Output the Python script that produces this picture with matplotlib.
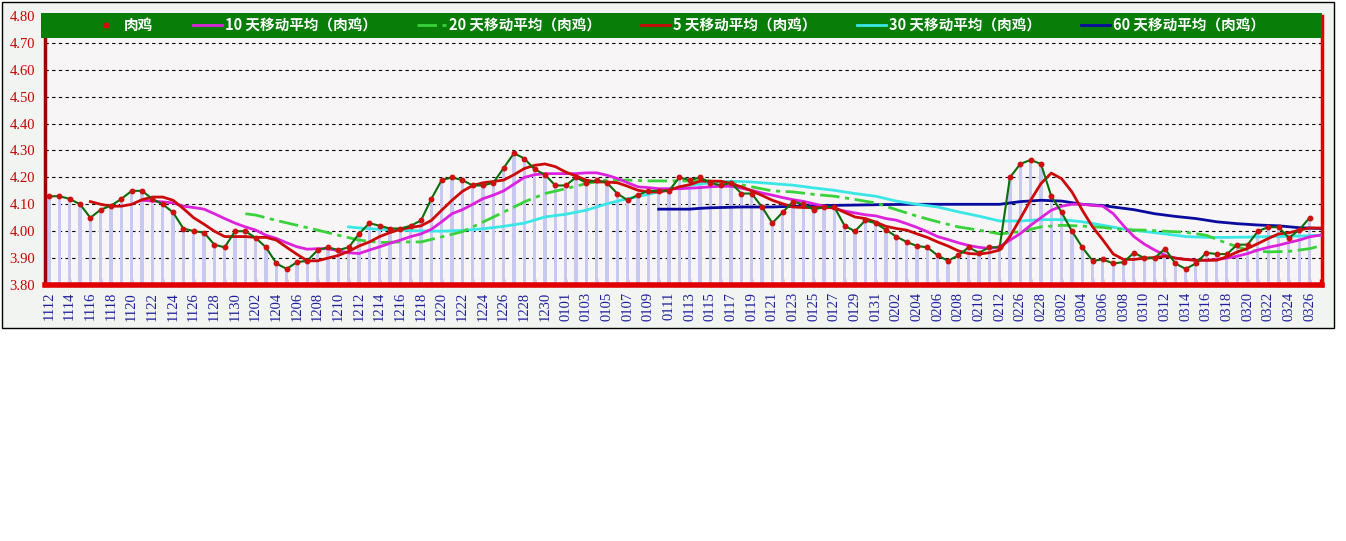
import matplotlib
matplotlib.use('Agg')
import matplotlib.pyplot as plt
from matplotlib.lines import Line2D
from matplotlib.patches import Rectangle
import numpy as np

plt.rcParams['font.family'] = ['Noto Sans CJK SC', 'DejaVu Sans']

# categories (trading days), one tick label every second day
dates = ([f'11{d:02d}' for d in range(12, 31)] + [f'12{d:02d}' for d in range(1, 32)]
         + [f'01{d:02d}' for d in range(1, 32)] + [f'02{d:02d}' for d in range(1, 13)]
         + ['0225', '0226', '0227', '0228'] + [f'03{d:02d}' for d in range(1, 28)])

# 肉鸡 price, 1112 .. 0326
price = [4.13, 4.13, 4.12, 4.10, 4.05, 4.08, 4.095, 4.12, 4.15, 4.15,
         4.12, 4.10, 4.07, 4.01, 4.00, 3.995, 3.95, 3.94, 4.00, 4.00,
         3.975, 3.94, 3.88, 3.86, 3.885, 3.89, 3.93, 3.94, 3.93, 3.94,
         3.99, 4.03, 4.02, 4.01, 4.01, 4.02, 4.04, 4.12, 4.19, 4.20,
         4.19, 4.17, 4.17, 4.18, 4.235, 4.29, 4.27, 4.23, 4.21, 4.17,
         4.17, 4.20, 4.18, 4.19, 4.18, 4.14, 4.115, 4.135, 4.15, 4.15,
         4.15, 4.20, 4.19, 4.20, 4.18, 4.17, 4.18, 4.14, 4.14, 4.09,
         4.03, 4.07, 4.11, 4.10, 4.08, 4.09, 4.09, 4.02, 4.00, 4.04,
         4.03, 4.005, 3.98, 3.96, 3.945, 3.94, 3.91, 3.89, 3.91, 3.94,
         3.92, 3.94, 3.94, 4.20, 4.25, 4.265, 4.25, 4.13, 4.07, 4.00,
         3.94, 3.89, 3.895, 3.88, 3.885, 3.92, 3.90, 3.90, 3.935, 3.88,
         3.86, 3.88, 3.92, 3.915, 3.915, 3.95, 3.95, 4.00, 4.015, 4.015,
         3.975, 4.005, 4.05]

# 5-day MA, from 1116 to 0327
ma5_start = 4
ma5 = [4.11, 4.10, 4.093, 4.093, 4.10, 4.117, 4.127, 4.127, 4.115, 4.084,
       4.05, 4.026, 4.00, 3.98, 3.98, 3.98, 3.977, 3.977, 3.967, 3.94,
       3.914, 3.89, 3.89, 3.90, 3.91, 3.925, 3.945, 3.96, 3.98, 3.995,
       4.007, 4.014, 4.02, 4.04, 4.078, 4.115, 4.148, 4.17, 4.18, 4.185,
       4.19, 4.21, 4.233, 4.245, 4.25, 4.24, 4.22, 4.205, 4.19, 4.183,
       4.183, 4.18, 4.167, 4.152, 4.146, 4.146, 4.152, 4.165, 4.173, 4.186,
       4.186, 4.186, 4.177, 4.165, 4.15, 4.133, 4.115, 4.102, 4.09, 4.088,
       4.088, 4.088, 4.088, 4.07, 4.053, 4.047, 4.034, 4.018, 4.01, 4.004,
       3.99, 3.977, 3.96, 3.945, 3.927, 3.917, 3.915, 3.92, 3.93, 3.98,
       4.047, 4.115, 4.177, 4.216, 4.195, 4.146, 4.078, 4.016, 3.967, 3.915,
       3.895, 3.895, 3.90, 3.902, 3.907, 3.90, 3.895, 3.892, 3.892, 3.892,
       3.905, 3.923, 3.936, 3.954, 3.973, 3.99, 3.994, 4.004, 4.012, 4.012]

# 10-day MA, from 1121 to 0327
ma10_start = 9
ma10 = [4.115, 4.112, 4.109, 4.105, 4.093, 4.088, 4.082, 4.065, 4.047, 4.03,
        4.016, 4.004, 3.985, 3.973, 3.957, 3.942, 3.933, 3.935, 3.935, 3.927,
        3.92, 3.917, 3.93, 3.942, 3.955, 3.967, 3.98, 3.99, 4.007, 4.035,
        4.065, 4.08, 4.10, 4.121, 4.134, 4.15, 4.175, 4.20, 4.21, 4.214,
        4.214, 4.214, 4.214, 4.217, 4.217, 4.208, 4.196, 4.18, 4.165, 4.162,
        4.158, 4.158, 4.158, 4.16, 4.162, 4.165, 4.167, 4.167, 4.16, 4.152,
        4.142, 4.134, 4.125, 4.117, 4.111, 4.102, 4.093, 4.084, 4.075, 4.068,
        4.061, 4.057, 4.047, 4.041, 4.028, 4.014, 3.998, 3.98, 3.969, 3.957,
        3.947, 3.94, 3.936, 3.942, 3.967, 3.991, 4.022, 4.05, 4.078, 4.093,
        4.10, 4.10, 4.096, 4.093, 4.065, 4.02, 3.98, 3.952, 3.93, 3.911,
        3.90, 3.895, 3.892, 3.892, 3.895, 3.90, 3.907, 3.917, 3.93, 3.94,
        3.948, 3.958, 3.967, 3.979, 3.985]

# 20/30/60-day MA, read at the listed category numbers
ma20_at = [19, 20, 22, 24, 26, 28, 30, 32, 34, 36, 38, 40, 42, 44, 46, 48, 50, 52, 54, 56,
           58, 60, 62, 64, 66, 68, 70, 72, 74, 76, 78, 80, 82, 84, 86, 88, 90, 92, 94, 96,
           98, 100, 102, 104, 106, 108, 110, 112, 114, 116, 118, 120, 122, 123]
ma20 = [4.065, 4.06, 4.04, 4.022, 4.004, 3.985, 3.967, 3.958, 3.96, 3.96,
        3.979, 3.998, 4.034, 4.071, 4.109, 4.14, 4.158, 4.177, 4.19, 4.19,
        4.187, 4.187, 4.187, 4.187, 4.18, 4.165, 4.15, 4.146, 4.137, 4.13,
        4.118, 4.105, 4.08, 4.056, 4.035, 4.016, 4.004, 3.99, 3.998, 4.016,
        4.022, 4.019, 4.014, 4.005, 4.004, 4.00, 3.996, 3.985, 3.955, 3.93,
        3.923, 3.925, 3.935, 3.945]

ma30_at = [29, 30, 32, 34, 36, 38, 40, 42, 44, 46, 48, 50, 52, 54, 56, 58, 60, 62, 64, 66,
           68, 70, 72, 74, 76, 78, 80, 82, 84, 86, 88, 90, 92, 94, 96, 98, 100, 102, 104, 106,
           108, 110, 112, 114, 116, 118, 120, 122, 123]
ma30 = [4.016, 4.012, 4.007, 4.004, 4.001, 4.00, 4.003, 4.009, 4.018, 4.03,
        4.053, 4.063, 4.078, 4.102, 4.121, 4.137, 4.155, 4.171, 4.18, 4.186,
        4.183, 4.177, 4.171, 4.161, 4.152, 4.14, 4.13, 4.112, 4.10, 4.09,
        4.072, 4.056, 4.038, 4.038, 4.043, 4.043, 4.035, 4.022, 4.008, 3.999,
        3.99, 3.98, 3.977, 3.977, 3.978, 3.98, 3.981, 3.983, 3.985]

ma60_at = [59, 62, 63, 64, 67, 70, 73, 76, 81, 84, 89, 92, 94, 96, 98, 100, 102, 104, 105,
           107, 109, 111, 113, 115, 117, 119, 121, 123]
ma60 = [4.082, 4.082, 4.085, 4.087, 4.09, 4.09, 4.094, 4.096, 4.099, 4.10,
        4.10, 4.10, 4.11, 4.115, 4.112, 4.10, 4.095, 4.085, 4.08, 4.065,
        4.055, 4.047, 4.035, 4.028, 4.023, 4.02, 4.013, 4.01]

C_PRICE, C_DOT = '#0a6e0a', '#d01010'
C5, C10, C20, C30, C60 = '#cc0a0a', '#dd22dd', '#3ad23a', '#3ae6e6', '#0a0aa0'

W, H = 1346, 541
fig = plt.figure(figsize=(W / 100, H / 100), dpi=100)
frame = Rectangle((2 / W, 213 / H), 1332 / W, 326 / H, transform=fig.transFigure,
                  facecolor='#f1f4f1', edgecolor='black', lw=1)
frame.set_zorder(-10)
fig.add_artist(frame)
ax = fig.add_axes([45 / W, 256 / H, 1277 / W, 269 / H])
ax.set_facecolor('#f7f5f5')

xp = np.arange(len(price))
ax.bar(xp, np.array(price) - 3.8, bottom=3.8, width=0.3, color='#c8c8f0', zorder=1)
ax.plot(ma60_at, ma60, color=C60, lw=2, zorder=3)
ax.plot(ma30_at, ma30, color=C30, lw=2, zorder=3)
ax.plot(ma20_at, ma20, color=C20, lw=2, ls=(0, (7, 2, 1.5, 2)), zorder=3)
ax.plot(np.arange(ma10_start, ma10_start + len(ma10)), ma10, color=C10, lw=2, zorder=3)
ax.plot(np.arange(ma5_start, ma5_start + len(ma5)), ma5, color=C5, lw=2, zorder=4)
ax.plot(xp, price, color=C_PRICE, lw=1.5, marker='o', ms=3.2,
        mfc=C_DOT, mec=C_DOT, zorder=5)

ax.set_xlim(-0.39, 123.2)
ax.set_ylim(3.8, 4.8)
yt = np.arange(3.8, 4.81, 0.1)
ax.set_yticks(yt)
ax.set_yticklabels([f'{v:.2f}' for v in yt], color='#cc0000', fontsize=10.5,
                   family=['Liberation Serif', 'DejaVu Serif'])
ax.tick_params(axis='y', length=0, pad=7)
ax.set_xticks(range(len(dates)))
ax.set_xticklabels([d if i % 2 == 0 else '' for i, d in enumerate(dates)],
                   rotation=90, color='#1e1e9a', fontsize=10.5,
                   family=['Liberation Serif', 'DejaVu Serif'])
ax.tick_params(axis='x', direction='in', length=4, width=1, color='#e00000', pad=5)
ax.grid(axis='y', color='black', ls=(0, (3, 3)), lw=0.8)
ax.set_axisbelow(True)

ax.spines['top'].set_visible(False)
ax.spines['left'].set_color('#a00000'); ax.spines['left'].set_linewidth(2.5)
ax.spines['right'].set_color('#e00000'); ax.spines['right'].set_linewidth(2.5)
ax.spines['bottom'].set_color('#e00000'); ax.spines['bottom'].set_linewidth(4)

# green legend band
ax.add_patch(Rectangle((-0.003, 0.918), 1.003, 0.093, transform=ax.transAxes,
                       facecolor='#087d08', edgecolor='none', clip_on=False, zorder=6))
handles = [Line2D([], [], ls='none', marker='o', ms=3.5, color=C_DOT),
           Line2D([], [], color=C10, lw=2),
           Line2D([], [], color=C20, lw=2, ls=(0, (7, 2, 1.5, 2))),
           Line2D([], [], color=C5, lw=2),
           Line2D([], [], color=C30, lw=2),
           Line2D([], [], color=C60, lw=2)]
labels = ['肉鸡', '10 天移动平均（肉鸡）', '20 天移动平均（肉鸡）',
          '5 天移动平均（肉鸡）', '30 天移动平均（肉鸡）', '60 天移动平均（肉鸡）']
leg = ax.legend(handles, labels, loc='center', bbox_to_anchor=(0.496, 0.965), ncol=6,
                frameon=False, prop={'weight': 'bold', 'size': 10.5}, handlelength=2,
                handletextpad=0.2, columnspacing=2.75, labelcolor='white', borderpad=0)
leg.set_zorder(7)

plt.savefig('out.png', dpi=100)
plt.close()
